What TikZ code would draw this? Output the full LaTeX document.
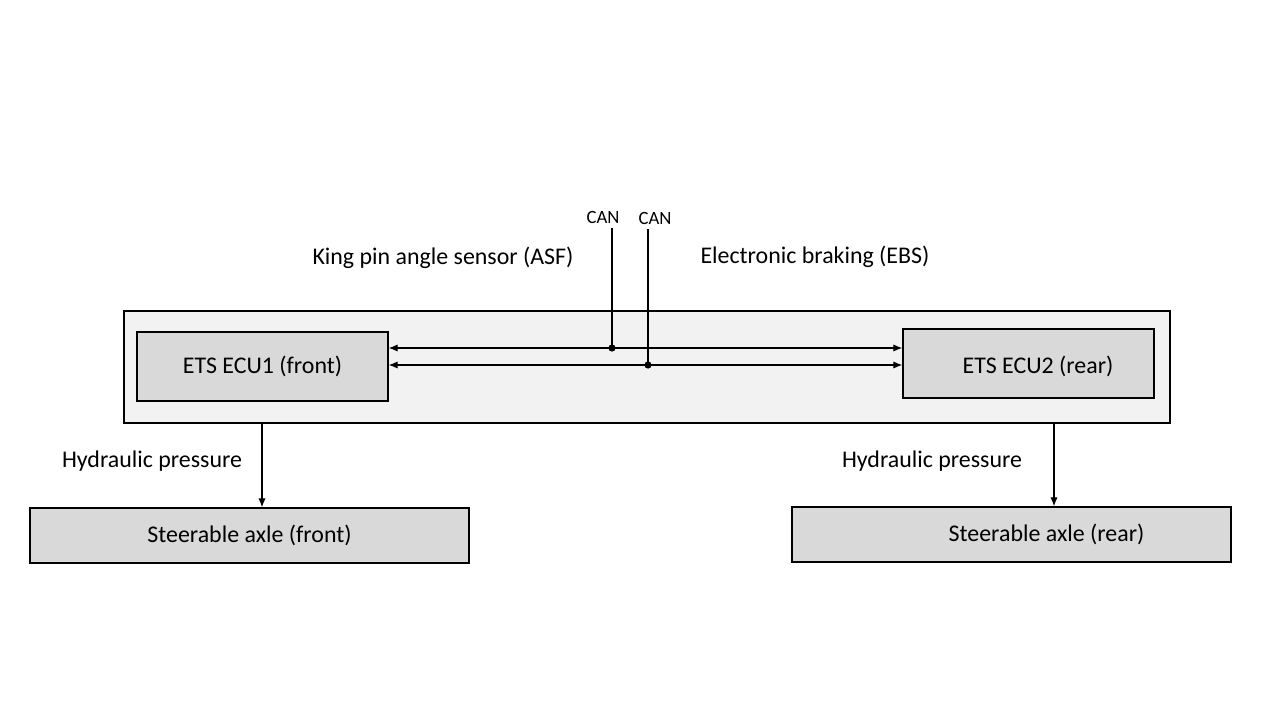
\documentclass[tikz,border=0pt]{standalone}
\usepackage{fontspec}
\setmainfont{Carlito}
\usepackage{tikz}
\usetikzlibrary{arrows.meta}
\usetikzlibrary{calc}

\definecolor{boxgray}{HTML}{D9D9D9}
\definecolor{panelgray}{HTML}{F2F2F2}

\tikzset{
  unitbox/.style={draw=black, line width=1.1pt, fill=boxgray, inner sep=0pt,
    font=\fontsize{17}{20}\selectfont},
  lbl/.style={font=\fontsize{17}{20}\selectfont, inner sep=0pt},
  canlbl/.style={font=\fontsize{13.3}{16}\selectfont, inner sep=0pt},
  bus/.style={line width=0.75pt, {Latex[length=2.2mm,width=1.8mm]}-{Latex[length=2.2mm,width=1.8mm]}},
  feed/.style={line width=0.75pt, -{Latex[length=2.2mm,width=1.8mm]}},
  tap/.style={circle, fill=black, inner sep=0pt, minimum size=1.8mm}
}

\begin{document}
\begin{tikzpicture}[x=0.025cm, y=-0.025cm]
  \useasboundingbox (0,0) rectangle (1280,720);
  % controller housing
  \node[draw=black, line width=1.5pt, fill=panelgray, minimum width=1046*0.025cm,
        minimum height=112*0.025cm, inner sep=0pt] (sys) at (647,367) {};
  \node[unitbox, minimum width=251*0.025cm, minimum height=69*0.025cm] (ecu1) at (262.5,366.5) {ETS ECU1 (front)};
  \node[unitbox, minimum width=251*0.025cm, minimum height=69*0.025cm] (ecu2) at (1028.5,363.5) {\hspace*{0.475cm}\raisebox{-0.08cm}[\height][\depth]{ETS ECU2 (rear)}};
  % axles
  \node[unitbox, minimum width=439*0.025cm, minimum height=55*0.025cm] (frontaxle) at (249.5,535.5) {Steerable axle (front)};
  \node[unitbox, minimum width=439*0.025cm, minimum height=55*0.025cm] (rearaxle) at (1011.5,534.5) {\hspace*{1.75cm}Steerable axle (rear)};
  % CAN buses
  \coordinate (asf) at (612,348);
  \coordinate (ebs) at (648,365);
  \node[canlbl] (canA) at (603,217) {CAN};
  \node[canlbl] (canB) at (655,218) {CAN};
  \draw[bus] (ecu1.east |- asf) -- (ecu2.west |- asf);
  \draw[bus] (ecu1.east |- ebs) -- (ecu2.west |- ebs);
  \draw[line width=0.75pt] (asf) -- ($(asf |- canA.south)+(0,5)$);
  \draw[line width=0.75pt] (ebs) -- ($(ebs |- canB.south)+(0,5)$);
  \node[tap] at (asf) {};
  \node[tap] at (ebs) {};
  \node[lbl] (asflbl) at (443,258) {King pin angle sensor (ASF)};
  \node[lbl] (ebslbl) at (815,257) {Electronic braking (EBS)};
  % hydraulic lines
  \coordinate (hydA) at (262,0);
  \coordinate (hydB) at (1054,0);
  \draw[feed] (hydA |- sys.south) -- (hydA |- frontaxle.north);
  \draw[feed] (hydB |- sys.south) -- (hydB |- rearaxle.north);
  \node[lbl] (hydAlbl) at (152,461) {Hydraulic pressure};
  \node[lbl] (hydBlbl) at (932,461) {Hydraulic pressure};
\end{tikzpicture}
\end{document}
